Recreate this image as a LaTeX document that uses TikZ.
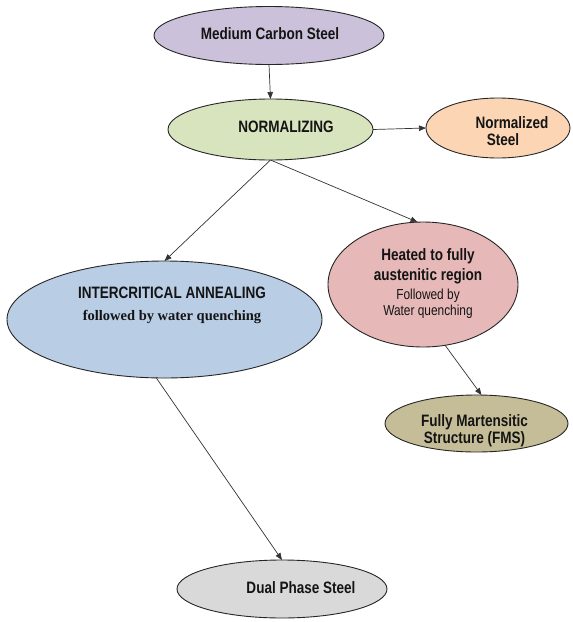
\documentclass[tikz,border=0pt]{standalone}
\usepackage{fontspec}
\setmainfont{Liberation Sans}
\newfontfamily\nsans{Liberation Sans}[FakeStretch=0.82]
\newfontfamily\nreg{Liberation Sans}[FakeStretch=0.82]
\newfontfamily\tserif{Liberation Serif}
\usetikzlibrary{shapes.geometric,arrows.meta}
\definecolor{cMCS}{HTML}{CCC1DA}
\definecolor{cNORM}{HTML}{D7E4BD}
\definecolor{cNS}{HTML}{FCD5B4}
\definecolor{cINT}{HTML}{B9CDE5}
\definecolor{cHEAT}{HTML}{E6B9B8}
\definecolor{cFMS}{HTML}{C4BD97}
\definecolor{cDP}{HTML}{D9D9D9}
\begin{document}
\begin{tikzpicture}[x=1pt,y=-1pt,
 ell/.style={ellipse,draw=black!85,line width=0.9pt,inner sep=0pt,outer sep=0pt},
 lbl/.style={anchor=base,inner sep=0pt,font=\nsans\bfseries\fontsize{16.5}{17}\selectfont,text=black!92},
 small/.style={anchor=base,inner sep=0pt,font=\nreg\fontsize{14.5}{15}\selectfont,text=black!92},
 serif/.style={anchor=base,inner sep=0pt,font=\tserif\bfseries\fontsize{14.5}{16}\selectfont,text=black!92},
 arr/.style={-{Triangle[length=7pt,width=5.5pt]},line width=0.7pt,draw=black!80}]
\useasboundingbox[fill=white] (0,0) rectangle (573,622);
% ellipses
\node[ell,fill=cMCS,minimum width=230pt,minimum height=58pt] (mcs) at (269,35.5) {};
\node[ell,fill=cNORM,minimum width=205pt,minimum height=61pt] (norm) at (270.5,129.5) {};
\node[ell,fill=cNS,minimum width=144pt,minimum height=60pt] (ns) at (498,128) {};
\node[ell,fill=cINT,minimum width=315pt,minimum height=117pt] (inter) at (164.5,319.5) {};
\node[ell,fill=cHEAT,minimum width=190pt,minimum height=125pt] (heated) at (423,284.5) {};
\node[ell,fill=cFMS,minimum width=183pt,minimum height=57pt] (fms) at (476.5,423.5) {};
\node[ell,fill=cDP,minimum width=210pt,minimum height=58pt] (dp) at (282,589) {};
% texts
\node[lbl] (tmcs) at (270,39) {Medium Carbon Steel};
\node[lbl] (tnorm) at (286,132) {NORMALIZING};
\node[lbl] (tns1) at (512,128) {Normalized};
\node[lbl] (tns2) at (503,145) {Steel};
\node[lbl] (tint1) at (172,298) {INTERCRITICAL ANNEALING};
\node[serif] (tint2) at (172,320) {followed by water quenching};
\node[lbl] (th1) at (428,260) {Heated to fully};
\node[lbl] (th2) at (428,280) {austenitic region};
\node[small] (th3) at (428,299) {Followed by};
\node[small] (th4) at (428,315) {Water quenching};
\node[lbl] (tf1) at (474.5,426) {Fully Martensitic};
\node[lbl] (tf2) at (474.5,443) {Structure (FMS)};
\node[lbl] (tdp) at (301,593) {Dual Phase Steel};
% connectors
\draw[arr] (mcs.south) -- (norm.north);
\draw[arr] (norm.east) -- (ns.west);
\draw[arr] (norm.south) -- (inter.north);
\draw[arr] (norm.south) -- (heated.95);
\draw[arr] (heated.290) -- (fms.80);
\draw[arr] (inter.262) -- (dp.north);
\end{tikzpicture}
\end{document}
